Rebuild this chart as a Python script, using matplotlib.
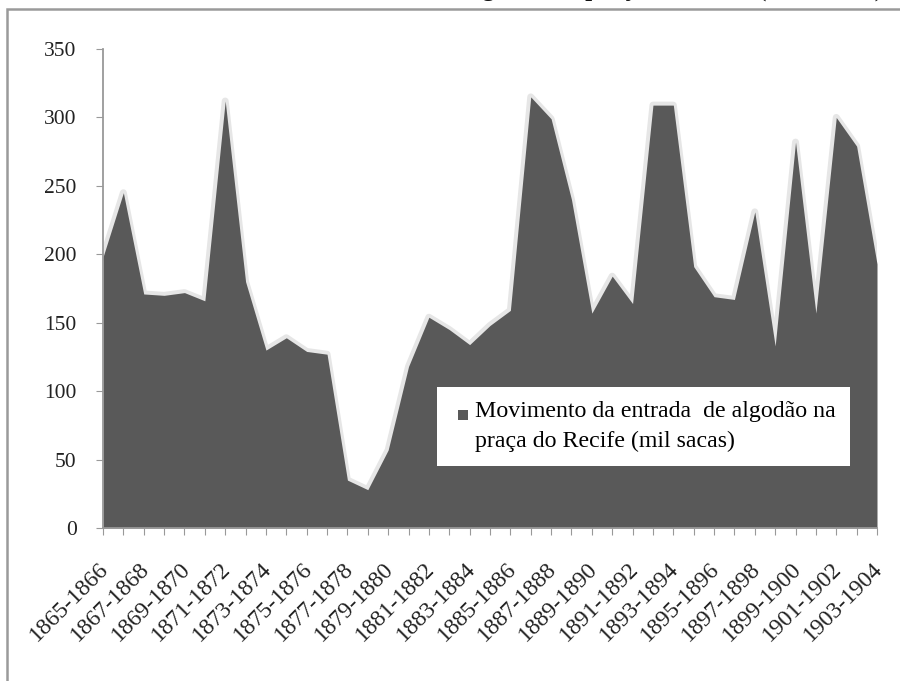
import numpy as np
import matplotlib
matplotlib.use("Agg")
import matplotlib.pyplot as plt
from matplotlib.patches import Patch, Rectangle
from matplotlib.legend_handler import HandlerBase
from matplotlib.transforms import ScaledTranslation

plt.rcParams['font.family'] = ['Liberation Serif', 'DejaVu Serif']

# safras 1865-1866 ... 1903-1904
periodos = [f"{a}-{a + 1}" for a in range(1865, 1904)]
# entrada de algodao (mil sacas)
sacas = [198, 245, 171, 170, 172, 166, 312, 180, 130, 139,
         129, 127, 35, 28, 57, 118, 154, 145, 134, 148,
         159, 315, 299, 240, 157, 184, 164, 309, 309, 191,
         169, 167, 231, 133, 282, 157, 300, 279, 193]
yticks = [0, 50, 100, 150, 200, 250, 300, 350]
legenda = "Movimento da entrada  de algodão na\npraça do Recife (mil sacas)"
titulo = "Gráfico 1 - Movimento da entrada de algodão na praça do Recife (1865-1904)"


class QuadradoNoTopo(HandlerBase):
    # quadradinho da legenda alinhado com a primeira linha do texto
    def create_artists(self, legend, orig_handle, xdescent, ydescent,
                       width, height, fontsize, trans):
        s = 0.42 * fontsize
        r = Rectangle((-xdescent + width - s, -ydescent + height - 1.6 * s), s, s,
                      facecolor=orig_handle.get_facecolor(), edgecolor='none',
                      transform=trans)
        return [r]


fig = plt.figure(figsize=(9, 6.81), dpi=100)
ax = fig.add_axes([103 / 900, 1 - 528 / 681, 774 / 900, 479 / 681])

x = np.arange(len(sacas))
# halo claro em volta da area
ax.plot(x, sacas, color='#e6e6e6', lw=5, solid_joinstyle='round', zorder=1)
ax.fill_between(x, 0, sacas, color='#595959', lw=0, zorder=2)

ax.set_xlim(0, len(sacas) - 1)
ax.set_ylim(0, 350)
ax.set_yticks(yticks)
ax.set_yticklabels([str(v) for v in yticks], fontsize=15.5, color='#222222')
ax.set_xticks(x)
ax.set_xticklabels([p if i % 2 == 0 else '' for i, p in enumerate(periodos)],
                   rotation=45, ha='right', rotation_mode='anchor',
                   fontsize=17, color='#222222')
ax.tick_params(axis='x', length=5, color='#999999', pad=17)
ax.tick_params(axis='y', length=5, color='#999999', pad=14)
desloc = ScaledTranslation(-5 / 100, 0, fig.dpi_scale_trans)
for lab in ax.get_xticklabels():
    lab.set_transform(lab.get_transform() + desloc)

for s in ['top', 'right']:
    ax.spines[s].set_visible(False)
for s in ['left', 'bottom']:
    ax.spines[s].set_color('#999999')
    ax.spines[s].set_linewidth(1.3)
    ax.spines[s].set_zorder(3)

serie = Patch(facecolor='#595959', edgecolor='none')
leg = ax.legend([serie], [legenda], handler_map={Patch: QuadradoNoTopo()},
                loc='upper left', bbox_to_anchor=(437 / 900, 1 - 387 / 681),
                bbox_transform=fig.transFigure, frameon=True, fancybox=False,
                fontsize=17.2, handlelength=0.7, handleheight=2.6,
                handletextpad=0.3, borderpad=0.6, borderaxespad=0)
leg.get_frame().set_facecolor('white')
leg.get_frame().set_edgecolor('none')
leg.get_frame().set_alpha(1)
leg.set_zorder(5)
for t in leg.get_texts():
    t.set_linespacing(1.5)

# moldura da area do grafico (cortada pela borda da imagem)
fig.add_artist(Rectangle((7 / 900, -0.1), 1.2, 1 - 9 / 681 + 0.1,
                         transform=fig.transFigure, fill=False,
                         edgecolor='#9a9a9a', lw=1.8))
# titulo cortado no topo (so as descendentes aparecem)
fig.text(883 / 900, 1 + 4 / 681, titulo, ha='right', va='baseline',
         fontsize=18, fontweight='bold', color='#111111')

fig.savefig('out.png', dpi=100)
